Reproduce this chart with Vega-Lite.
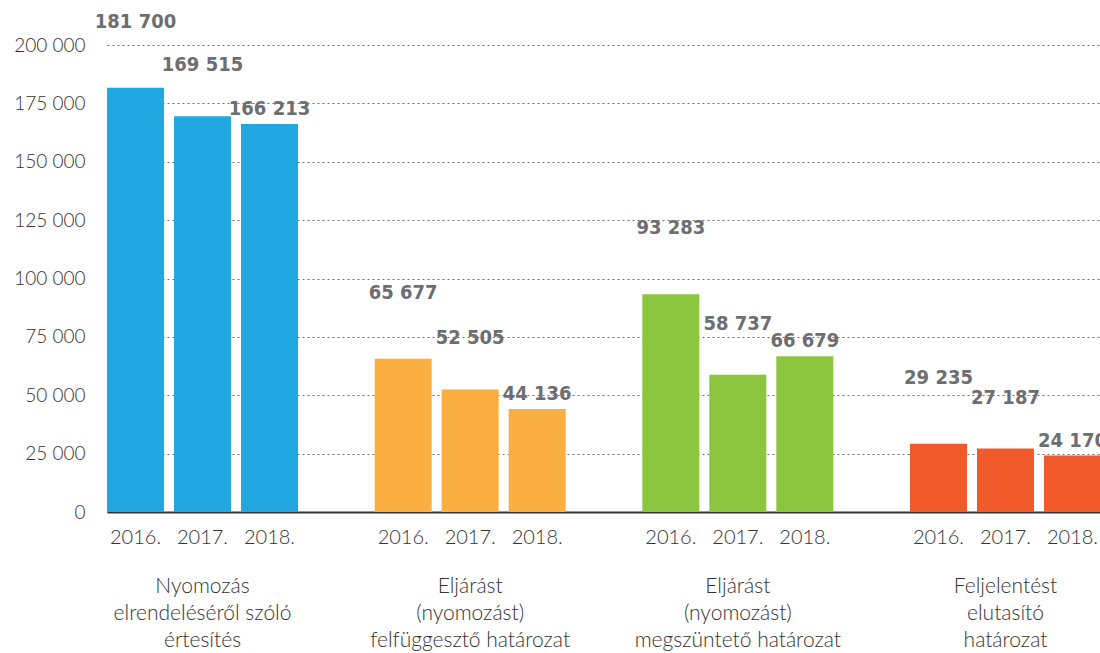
{
  "$schema": "https://vega.github.io/schema/vega-lite/v6.json",
  "autosize": "none",
  "width": 999,
  "height": 467,
  "padding": {"left": 101, "top": 45, "right": 0, "bottom": 141},
  "background": "white",
  "config": {
    "view": {"stroke": null},
    "locale": {"number": {"decimal": ",", "thousands": " ", "grouping": [3], "currency": ["", ""]}},
    "font": "Lato"
  },
  "data": {
    "values": [
      {"cat": "Nyomozás|elrendeléséről szóló|értesítés", "year": "2016.", "value": 181700},
      {"cat": "Nyomozás|elrendeléséről szóló|értesítés", "year": "2017.", "value": 169515},
      {"cat": "Nyomozás|elrendeléséről szóló|értesítés", "year": "2018.", "value": 166213},
      {"cat": "Eljárást|(nyomozást)|felfüggesztő határozat", "year": "2016.", "value": 65677},
      {"cat": "Eljárást|(nyomozást)|felfüggesztő határozat", "year": "2017.", "value": 52505},
      {"cat": "Eljárást|(nyomozást)|felfüggesztő határozat", "year": "2018.", "value": 44136},
      {"cat": "Eljárást|(nyomozást)|megszüntető határozat", "year": "2016.", "value": 93283},
      {"cat": "Eljárást|(nyomozást)|megszüntető határozat", "year": "2017.", "value": 58737},
      {"cat": "Eljárást|(nyomozást)|megszüntető határozat", "year": "2018.", "value": 66679},
      {"cat": "Feljelentést|elutasító|határozat", "year": "2016.", "value": 29235},
      {"cat": "Feljelentést|elutasító|határozat", "year": "2017.", "value": 27187},
      {"cat": "Feljelentést|elutasító|határozat", "year": "2018.", "value": 24170}
    ]
  },
  "encoding": {
    "x": {
      "field": "cat",
      "type": "nominal",
      "sort": null,
      "scale": {"range": [6, 1000], "paddingInner": 0.2864, "paddingOuter": 0},
      "axis": {
        "title": null,
        "labelAngle": 0,
        "ticks": false,
        "domain": true,
        "domainColor": "#333333",
        "domainWidth": 2,
        "labelPadding": 63,
        "labelFont": "Lato",
        "labelFontWeight": 300,
        "labelFontSize": 21,
        "labelColor": "#333333",
        "labelLineHeight": 27,
        "labelLimit": 400,
        "labelExpr": "split(datum.label, '|')"
      }
    },
    "xOffset": {
      "field": "year",
      "type": "nominal",
      "sort": null,
      "scale": {"paddingInner": 0.149, "paddingOuter": 0}
    }
  },
  "layer": [
    {
      "mark": {"type": "bar"},
      "encoding": {
        "y": {
          "field": "value",
          "type": "quantitative",
          "scale": {"domain": [0, 200000], "nice": false},
          "axis": {
            "title": null,
            "values": [0, 25000, 50000, 75000, 100000, 125000, 150000, 175000, 200000],
            "format": ",d",
            "ticks": false,
            "domain": false,
            "labelPadding": 16,
            "labelFont": "Lato",
            "labelFontWeight": 300,
            "labelFontSize": 19,
            "labelColor": "#333333",
            "grid": true,
            "gridColor": "#707070",
            "gridDash": [2, 3],
            "gridWidth": 1
          }
        },
        "color": {
          "field": "cat",
          "type": "nominal",
          "sort": null,
          "scale": {"range": ["#22a8e0", "#fbaf41", "#8cc63f", "#f15a2b"]},
          "legend": null
        }
      }
    },
    {
      "transform": [{"filter": "datum.year === '2016.'"}],
      "mark": {"type": "text", "font": "DejaVu Sans Condensed", "fontWeight": "bold", "fontSize": 20, "color": "#6d6e71", "baseline": "middle", "dy": -66},
      "encoding": {
        "y": {"field": "value", "type": "quantitative"},
        "text": {"field": "value", "type": "quantitative", "format": ",d"}
      }
    },
    {
      "transform": [{"filter": "datum.year === '2017.'"}],
      "mark": {"type": "text", "font": "DejaVu Sans Condensed", "fontWeight": "bold", "fontSize": 20, "color": "#6d6e71", "baseline": "middle", "dy": -51},
      "encoding": {
        "y": {"field": "value", "type": "quantitative"},
        "text": {"field": "value", "type": "quantitative", "format": ",d"}
      }
    },
    {
      "transform": [{"filter": "datum.year === '2018.'"}],
      "mark": {"type": "text", "font": "DejaVu Sans Condensed", "fontWeight": "bold", "fontSize": 20, "color": "#6d6e71", "baseline": "middle", "dy": -15},
      "encoding": {
        "y": {"field": "value", "type": "quantitative"},
        "text": {"field": "value", "type": "quantitative", "format": ",d"}
      }
    },
    {
      "mark": {"type": "text", "font": "Lato", "fontWeight": 300, "fontSize": 20, "color": "#333333", "baseline": "middle", "dy": 26},
      "encoding": {
        "y": {"datum": 0},
        "text": {"field": "year"}
      }
    }
  ]
}
